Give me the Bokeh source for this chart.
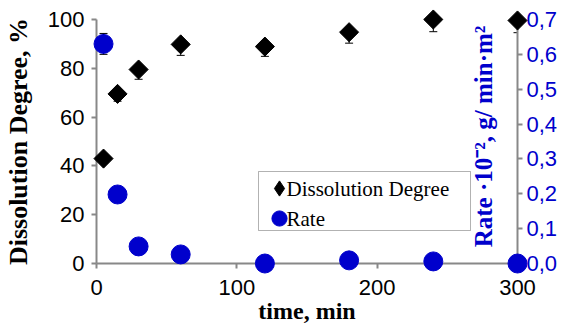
import math
from bokeh.plotting import figure
from bokeh.models import (Range1d, LinearAxis, FixedTicker, Whisker, TeeHead,
                          ColumnDataSource, Legend, LegendItem, Label, BoxAnnotation)
from bokeh.embed import file_html
from bokeh.resources import INLINE

# ---- data ----
time_min = [5, 15, 30, 60, 120, 180, 240, 300]
degree = [43, 69.5, 79.5, 89.8, 88.9, 94.8, 100, 99.6]
degree_err = [2, 3, 4, 4.5, 4, 4.5, 5, 5]
rate = [0.63, 0.198, 0.049, 0.026, 0.0, 0.009, 0.006, 0.0]
rate_err = [0.03, 0.01, 0.005, 0.005, 0.002, 0.002, 0.002, 0.002]

x_ticks = [0, 100, 200, 300]
y_ticks = [0, 20, 40, 60, 80, 100]
rate_ticks = [0.0, 0.1, 0.2, 0.3, 0.4, 0.5, 0.6, 0.7]
rate_tick_labels = ["0,0", "0,1", "0,2", "0,3", "0,4", "0,5", "0,6", "0,7"]
series_names = ["Dissolution Degree", "Rate"]

BLUE = "#0000CC"
GREY = "#888888"
SANS = "Liberation Sans"
SERIF = "Liberation Serif"

src = ColumnDataSource(dict(
    t=time_min, deg=degree,
    deg_lo=[d - e for d, e in zip(degree, degree_err)],
    rate=rate,
    rate_lo=[r - e for r, e in zip(rate, rate_err)],
    rate_hi=[r + e for r, e in zip(rate, rate_err)],
))

p = figure(width=568, height=332, x_range=Range1d(0, 300), y_range=Range1d(0, 100),
           output_backend="svg", toolbar_location=None,
           min_border_left=94, min_border_right=51, min_border_top=19, min_border_bottom=69)
p.extra_y_ranges = {"rate": Range1d(0, 0.7)}
p.outline_line_color = None
p.xgrid.visible = False
p.ygrid.visible = False
p.background_fill_color = "white"
p.border_fill_color = "white"

def style_axis(ax, color="black"):
    ax.axis_line_color = GREY
    ax.axis_line_width = 2
    ax.major_tick_line_color = GREY
    ax.major_tick_line_width = 2
    ax.major_tick_in = 0
    ax.major_tick_out = 5
    ax.minor_tick_line_color = None
    ax.major_label_text_font = SANS
    ax.major_label_text_font_size = "22px"
    ax.major_label_text_color = color
    ax.axis_label_text_font = SERIF
    ax.axis_label_text_font_style = "bold"
    ax.axis_label_text_color = "black"

xa = p.xaxis[0]
style_axis(xa)
xa.ticker = FixedTicker(ticks=x_ticks)
xa.major_label_standoff = 11
xa.axis_label = "time, min"
xa.axis_label_text_font_size = "24px"
xa.axis_label_standoff = 0

ya = p.yaxis[0]
style_axis(ya)
ya.ticker = FixedTicker(ticks=y_ticks)
ya.major_label_standoff = 7
ya.axis_label = "Dissolution Degree, %"
ya.axis_label_text_font_size = "26px"
ya.axis_label_standoff = 12

ra = LinearAxis(y_range_name="rate")
style_axis(ra, BLUE)
ra.ticker = FixedTicker(ticks=rate_ticks)
ra.major_label_overrides = {t: l for t, l in zip(rate_ticks, rate_tick_labels)}
ra.major_label_standoff = 4
p.add_layout(ra, "right")

# error bars
p.add_layout(Whisker(source=src, base="t", upper="deg", lower="deg_lo",
                     line_color="black", line_width=1,
                     upper_head=TeeHead(size=8, line_color="black", line_width=1),
                     lower_head=TeeHead(size=8, line_color="black", line_width=1)))
p.add_layout(Whisker(source=src, base="t", upper="rate_hi", lower="rate_lo",
                     y_range_name="rate", line_color="black", line_width=1,
                     upper_head=TeeHead(size=8, line_color="black", line_width=1),
                     lower_head=TeeHead(size=8, line_color="black", line_width=1)))

# hidden diamond (drawn under the rotated squares) that gives the legend its glyph
r_deg_leg = p.scatter("t", "deg", source=src, marker="diamond", size=12,
                      fill_color="black", line_color="black")
r_deg = p.scatter("t", "deg", source=src, marker="square", size=13.5, angle=math.pi / 4,
                  fill_color="black", line_color="black", level="overlay")
r_rate = p.scatter("t", "rate", source=src, marker="circle", size=19, y_range_name="rate",
                   fill_color=BLUE, line_color=BLUE, level="overlay")

# legend frame
p.add_layout(BoxAnnotation(left=162, right=374, top=92, bottom=33,
                           left_units="screen", right_units="screen",
                           top_units="screen", bottom_units="screen",
                           fill_color="white", fill_alpha=1.0,
                           line_color="black", line_width=1))

def glyph_legend(renderer, y):
    return Legend(items=[LegendItem(label=" ", renderers=[renderer])],
                  location=(164, y), label_text_font=SERIF, label_text_font_size="21px",
                  border_line_color=None, background_fill_alpha=0.0,
                  glyph_width=38, glyph_height=38, label_height=20,
                  spacing=0, padding=0, label_standoff=0, margin=0)

p.add_layout(glyph_legend(r_deg_leg, 56))
p.add_layout(glyph_legend(r_rate, 26))

for name, ly in zip(series_names, [75, 45]):
    p.add_layout(Label(x=190, y=ly, x_units="screen", y_units="screen", text=name,
                       text_align="left", text_baseline="middle",
                       text_font=SERIF, text_font_size="21px", text_color="black"))

p.add_layout(Label(x=387, y=127, x_units="screen", y_units="screen",
                   text="Rate ·10⁻², g/ min·m²", angle=math.pi / 2,
                   text_align="center", text_baseline="middle",
                   text_font=SERIF, text_font_style="bold", text_font_size="25px",
                   text_color=BLUE))

open("out.html", "w").write(file_html(p, INLINE))
